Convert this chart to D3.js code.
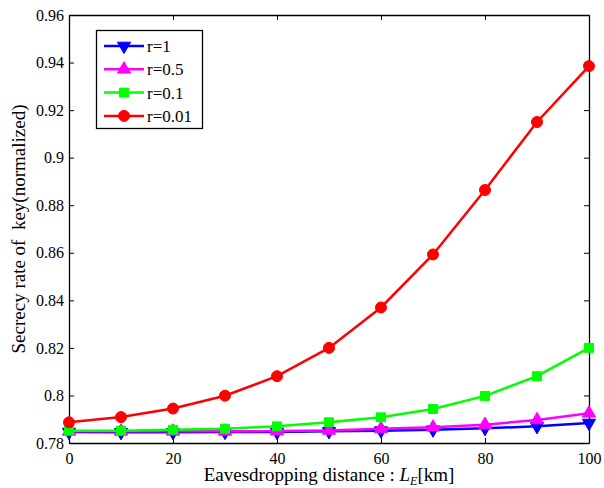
<!DOCTYPE html>
<html>
<head>
<meta charset="utf-8">
<script src="https://cdn.jsdelivr.net/npm/d3@7"></script>
<style>
  body { margin: 0; background: #fff; }
  svg text { font-family: "Liberation Serif", "DejaVu Serif", serif; fill: #000; }
</style>
</head>
<body>
<svg id="chart" width="604" height="488"></svg>
<script>
// data
const distances = [0, 10, 20, 30, 40, 50, 60, 70, 80, 90, 100];
const rate_r1   = [0.7846, 0.7845, 0.7845, 0.7846, 0.7846, 0.7849, 0.7852, 0.7856, 0.7862, 0.7870, 0.7884];
const rate_r05  = [0.7849, 0.7849, 0.7849, 0.7849, 0.7850, 0.7853, 0.7860, 0.7866, 0.7877, 0.7897, 0.7925];
const rate_r01  = [0.7852, 0.7852, 0.7856, 0.7860, 0.7870, 0.7887, 0.7908, 0.7943, 0.7998, 0.8081, 0.8200];
const rate_r001 = [0.7887, 0.7909, 0.7945, 0.7999, 0.8081, 0.8200, 0.8370, 0.8593, 0.8864, 0.9150, 0.9385];
const xTicks = [0, 20, 40, 60, 80, 100];
const yTicks = [0.78, 0.8, 0.82, 0.84, 0.86, 0.88, 0.9, 0.92, 0.94, 0.96];

const series = [
    {name: 'r=1',    values: rate_r1,   color: '#0000ff', marker: 'down'},
    {name: 'r=0.5',  values: rate_r05,  color: '#ff00ff', marker: 'up'},
    {name: 'r=0.1',  values: rate_r01,  color: '#00ff00', marker: 'square'},
    {name: 'r=0.01', values: rate_r001, color: '#ff0000', marker: 'circle'}
];

const margin = {left: 69, right: 15, top: 15, bottom: 45};
const width = 604, height = 488;

const svg = d3.select('#chart');

let x = d3.scaleLinear()
          .domain([0, 100])
          .range([margin.left, width - margin.right]);
let y = d3.scaleLinear()
          .domain([0.78, 0.96])
          .range([height - margin.bottom, margin.top]);

function yFmt(d) {
    return d3.format('.2f')(d).replace(/0$/, '');
}

// axes, ticks pointing inward on all four sides
svg.append('g')
   .attr('class', 'xaxis')
   .attr('transform', `translate(0,${y(0.78)})`)
   .call(d3.axisBottom(x).tickValues(xTicks).tickSizeInner(-5).tickSizeOuter(0).tickPadding(10).tickFormat(d3.format('d')));
svg.append('g')
   .attr('transform', `translate(0,${y(0.96)})`)
   .call(d3.axisTop(x).tickValues(xTicks).tickSizeInner(-5).tickSizeOuter(0).tickFormat(''));
svg.append('g')
   .attr('class', 'yaxis')
   .attr('transform', `translate(${x(0)},0)`)
   .call(d3.axisLeft(y).tickValues(yTicks).tickSizeInner(-5).tickSizeOuter(0).tickPadding(5).tickFormat(yFmt));
svg.append('g')
   .attr('transform', `translate(${x(100)},0)`)
   .call(d3.axisRight(y).tickValues(yTicks).tickSizeInner(-5).tickSizeOuter(0).tickFormat(''));

svg.selectAll('.domain').attr('stroke', '#000').attr('stroke-width', 1.3);
svg.selectAll('.tick line').attr('stroke', '#000');
svg.selectAll('.tick text').style('font-size', '16px').style('font-family', '"Liberation Serif", serif');

// the data lines
let line = d3.line()
             .x((d, i) => x(distances[i]))
             .y(d => y(d));

const symbolFor = {
    down:   d3.symbol().type(d3.symbolTriangle).size(75),
    up:     d3.symbol().type(d3.symbolTriangle).size(75),
    square: d3.symbol().type(d3.symbolSquare).size(80),
    circle: d3.symbol().type(d3.symbolCircle).size(95)
};

function drawMarker(g, s, cx, cy) {
    g.append('path')
     .attr('d', symbolFor[s.marker]())
     .attr('transform', `translate(${cx},${cy})` + (s.marker === 'down' ? ' rotate(180)' : ''))
     .attr('fill', s.color)
     .attr('stroke', s.color)
     .attr('stroke-width', 1);
}

series.forEach(s => {
    let g = svg.append('g');
    g.append('path')
     .datum(s.values)
     .attr('d', line)
     .attr('fill', 'none')
     .attr('stroke', s.color)
     .attr('stroke-width', 2.5);
    s.values.forEach((v, i) => drawMarker(g, s, x(distances[i]), y(v)));
});

// legend
let legend = svg.append('g');
legend.append('rect')
      .attr('x', 96.5)
      .attr('y', 30.5)
      .attr('width', 106)
      .attr('height', 98)
      .attr('fill', '#fff')
      .attr('stroke', '#000')
      .attr('stroke-width', 1.3);
series.forEach((s, i) => {
    let ly = 46 + i * 23.3;
    legend.append('line')
          .attr('x1', 104).attr('x2', 144)
          .attr('y1', ly).attr('y2', ly)
          .attr('stroke', s.color)
          .attr('stroke-width', 2.5);
    drawMarker(legend, s, 124, ly);
    legend.append('text')
          .attr('x', 147)
          .attr('y', ly + 6)
          .style('font-size', '17px')
          .text(s.name);
});

// axis titles
let xTitle = svg.append('text')
                .attr('x', x(50))
                .attr('y', 481)
                .attr('text-anchor', 'middle')
                .style('font-size', '19px');
xTitle.append('tspan').text('Eavesdropping distance : ');
xTitle.append('tspan').style('font-style', 'italic').text('L');
xTitle.append('tspan').attr('dy', 4).style('font-size', '12px').style('font-style', 'italic').text('E');
xTitle.append('tspan').attr('dy', -4).text('[km]');

svg.append('text')
   .attr('transform', `translate(25,${y(0.87)}) rotate(-90)`)
   .attr('text-anchor', 'middle')
   .style('font-size', '19px')
   .style('white-space', 'pre')
   .text('Secrecy rate of  key(normalized)');
</script>
</body>
</html>
